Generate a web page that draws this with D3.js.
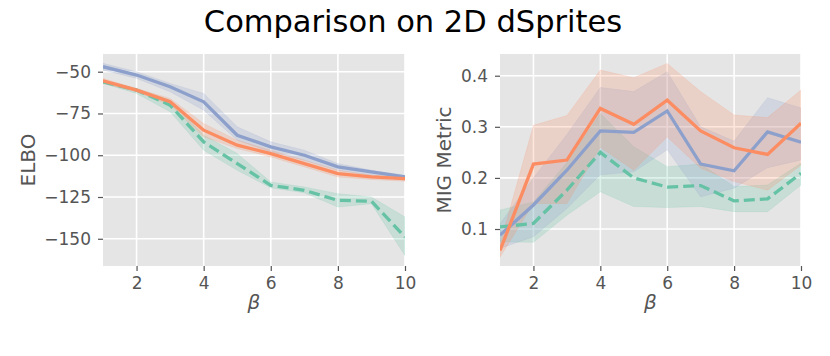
<!DOCTYPE html>
<html>
<head>
<meta charset="utf-8">
<script src="https://cdn.jsdelivr.net/npm/d3@7"></script>
<style>
  body { margin: 0; background: #fff; }
  text { font-family: "DejaVu Sans", sans-serif; }
</style>
</head>
<body>
<div id="chart"></div>
<script>
// Data
const betas = [1, 2, 3, 4, 5, 6, 7, 8, 9, 10]
const xTicks = [2, 4, 6, 8, 10]

// ELBO panel
const elboBlue = [-47, -52, -59, -68, -88, -95, -100, -107, -110, -113]
const elboBlueLo = [-49, -54, -62, -73, -91, -98, -103, -109, -112, -115]
const elboBlueHi = [-45, -50, -57, -63, -83, -92, -97, -105, -109, -112]
const elboOrange = [-55.5, -61, -68, -85, -94, -99, -105, -111, -113, -114]
const elboOrangeLo = [-57, -62, -70, -89, -96, -101, -107, -113, -114.5, -115.5]
const elboOrangeHi = [-54, -60, -66, -81, -91, -97, -103, -109, -112, -113]
const elboGreen = [-56, -61, -70, -92, -105, -118, -121, -127, -127.5, -149]
const elboGreenLo = [-57, -63, -74, -97, -109, -119.5, -122.5, -131, -129, -160]
const elboGreenHi = [-55, -60, -67, -88, -99, -116, -119, -123, -125, -137]
const elboTicks = [-150, -125, -100, -75, -50]

// MIG panel
const migBlue = [0.088, 0.147, 0.215, 0.292, 0.289, 0.331, 0.227, 0.214, 0.290, 0.270]
const migBlueLo = [0.062, 0.085, 0.140, 0.206, 0.212, 0.255, 0.163, 0.180, 0.220, 0.235]
const migBlueHi = [0.110, 0.200, 0.285, 0.377, 0.369, 0.408, 0.300, 0.272, 0.357, 0.337]
const migOrange = [0.058, 0.227, 0.235, 0.336, 0.305, 0.352, 0.292, 0.259, 0.246, 0.307]
const migOrangeLo = [0.045, 0.150, 0.150, 0.260, 0.215, 0.280, 0.219, 0.193, 0.176, 0.225]
const migOrangeHi = [0.070, 0.303, 0.322, 0.411, 0.396, 0.424, 0.369, 0.323, 0.318, 0.372]
const migGreen = [0.104, 0.111, 0.176, 0.250, 0.200, 0.182, 0.185, 0.155, 0.159, 0.209]
const migGreenLo = [0.075, 0.074, 0.127, 0.173, 0.144, 0.142, 0.144, 0.134, 0.134, 0.186]
const migGreenHi = [0.137, 0.153, 0.230, 0.326, 0.261, 0.222, 0.227, 0.183, 0.186, 0.229]
const migTicks = [0.1, 0.2, 0.3, 0.4]

const colors = { green: "#66c2a5", orange: "#fc8d62", blue: "#8da0cb" }

const W = 830, H = 356
const svg = d3.select("#chart").append("svg").attr("width", W).attr("height", H)

svg.append("text")
  .attr("x", 413).attr("y", 32)
  .attr("text-anchor", "middle")
  .style("font-size", "30.5px")
  .attr("fill", "#000")
  .text("Comparison on 2D dSprites")

function panel(opts) {
  const { left, right, top, bottom, yDomain, yTicks, yFormat, ylabel, ylabelX, series } = opts
  const g = svg.append("g")
  const x = d3.scaleLinear().domain([1, 10]).range([left, right])
  const y = d3.scaleLinear().domain(yDomain).range([bottom, top])

  g.append("rect").attr("x", left).attr("y", top)
    .attr("width", right - left).attr("height", bottom - top)
    .attr("fill", "#e5e5e5")

  // grid
  g.selectAll(".gx").data(xTicks).join("line")
    .attr("x1", d => x(d)).attr("x2", d => x(d))
    .attr("y1", top).attr("y2", bottom)
    .attr("stroke", "#fff").attr("stroke-width", 1.6)
  g.selectAll(".gy").data(yTicks).join("line")
    .attr("y1", d => y(d)).attr("y2", d => y(d))
    .attr("x1", left).attr("x2", right)
    .attr("stroke", "#fff").attr("stroke-width", 1.6)

  const clip = "clip" + left
  svg.append("clipPath").attr("id", clip).append("rect")
    .attr("x", left).attr("y", top).attr("width", right - left).attr("height", bottom - top)
  const plot = g.append("g").attr("clip-path", `url(#${clip})`)

  const area = d3.area().x((d, i) => x(betas[i])).y0(d => y(d[0])).y1(d => y(d[1]))
  const line = d3.line().x((d, i) => x(betas[i])).y(d => y(d))

  series.forEach(s => {
    plot.append("path")
      .datum(s.lo.map((v, i) => [v, s.hi[i]]))
      .attr("d", area)
      .attr("fill", s.color).attr("fill-opacity", 0.22)
      .attr("stroke", s.color).attr("stroke-opacity", 0.15)
  })
  series.forEach(s => {
    plot.append("path")
      .datum(s.mean)
      .attr("d", line)
      .attr("fill", "none")
      .attr("stroke", s.color).attr("stroke-width", 3.3)
      .attr("stroke-dasharray", s.dash || null)
  })

  // axes
  const xAxis = d3.axisBottom(x).tickValues(xTicks).tickSize(5).tickPadding(6)
  const gx = g.append("g").attr("transform", `translate(0,${bottom})`).call(xAxis)
  const yAxis = d3.axisLeft(y).tickValues(yTicks).tickSize(5).tickPadding(7)
    .tickFormat(yFormat)
  const gy = g.append("g").attr("transform", `translate(${left},0)`).call(yAxis)
  ;[gx, gy].forEach(a => {
    a.select(".domain").remove()
    a.selectAll(".tick line").attr("stroke", "#555").attr("stroke-width", 1.2)
    a.selectAll(".tick text").attr("fill", "#555")
      .style("font-family", "DejaVu Sans").style("font-size", "17px")
  })

  g.append("text")
    .attr("transform", `translate(${ylabelX},${(top + bottom) / 2}) rotate(-90)`)
    .attr("text-anchor", "middle").attr("dominant-baseline", "central")
    .attr("fill", "#555").style("font-size", "20px")
    .text(ylabel)

  g.append("text")
    .attr("x", (left + right) / 2).attr("y", 309)
    .attr("text-anchor", "middle")
    .attr("fill", "#555").style("font-size", "20px").style("font-style", "italic")
    .text("β")
}

const minus = d => String(d).replace("-", "\u2212")

panel({
  left: 103, right: 405, top: 54, bottom: 266,
  yDomain: [-166.3, -39.4], yTicks: elboTicks, yFormat: minus,
  ylabel: "ELBO", ylabelX: 28,
  series: [
    { mean: elboGreen, lo: elboGreenLo, hi: elboGreenHi, color: colors.green, dash: "11,5" },
    { mean: elboBlue, lo: elboBlueLo, hi: elboBlueHi, color: colors.blue },
    { mean: elboOrange, lo: elboOrangeLo, hi: elboOrangeHi, color: colors.orange }
  ]
})

panel({
  left: 500, right: 801, top: 54, bottom: 266,
  yDomain: [0.0276, 0.4425], yTicks: migTicks, yFormat: d3.format(".1f"),
  ylabel: "MIG Metric", ylabelX: 444,
  series: [
    { mean: migGreen, lo: migGreenLo, hi: migGreenHi, color: colors.green, dash: "11,5" },
    { mean: migBlue, lo: migBlueLo, hi: migBlueHi, color: colors.blue },
    { mean: migOrange, lo: migOrangeLo, hi: migOrangeHi, color: colors.orange }
  ]
})
</script>
</body>
</html>
